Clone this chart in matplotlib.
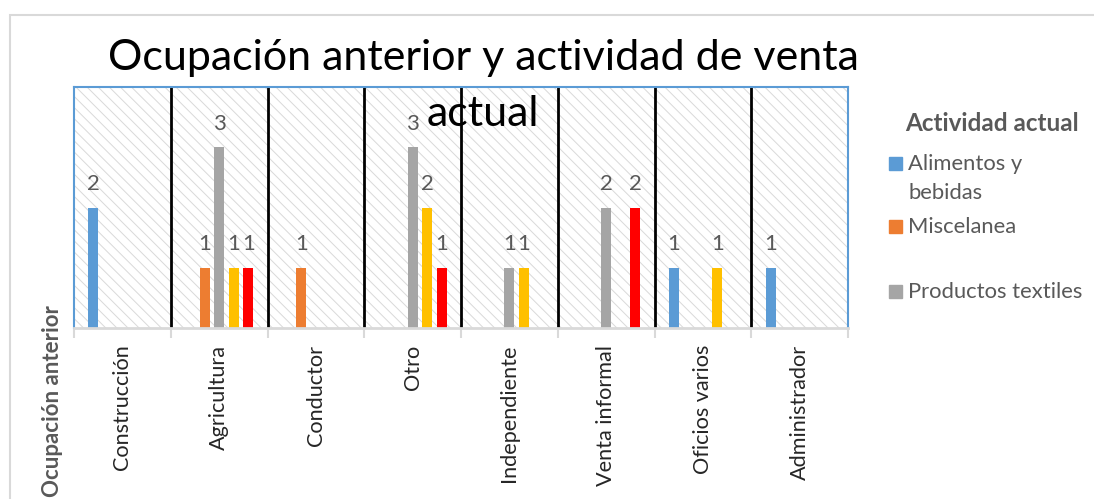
import numpy as np
import matplotlib
matplotlib.use("Agg")
import matplotlib.pyplot as plt
from matplotlib.patches import Rectangle

plt.rcParams['font.family'] = ['Lato', 'DejaVu Sans']
plt.rcParams['hatch.linewidth'] = 0.7

# datos
ocupaciones = ["Construcción", "Agricultura", "Conductor", "Otro",
               "Independiente", "Venta informal", "Oficios varios", "Administrador"]
series = ["Alimentos y\nbebidas", "Miscelanea", "Productos textiles", "Serie 4", "Serie 5"]
colores = ["#5b9bd5", "#ed7d31", "#a5a5a5", "#ffc000", "#ff0000"]
alimentos = [2, 0, 0, 0, 0, 0, 1, 1]
miscelanea = [0, 1, 1, 0, 0, 0, 0, 0]
textiles = [0, 3, 0, 3, 1, 2, 0, 0]
serie4 = [0, 1, 0, 2, 1, 0, 1, 0]
serie5 = [0, 1, 0, 1, 0, 2, 0, 0]
valores = [alimentos, miscelanea, textiles, serie4, serie5]

W, H = 1094, 499
fig = plt.figure(figsize=(W / 100, H / 100), dpi=100)
ax = fig.add_axes([74 / W, 1 - 328 / H, (848 - 74) / W, (328 - 87) / H])

x = np.arange(len(ocupaciones))
ax.set_xlim(-0.5, len(ocupaciones) - 0.5)
ax.set_ylim(0, 4)

# fondo rayado
ax.add_patch(Rectangle((0, 0), 1, 1, transform=ax.transAxes, facecolor="white",
                       edgecolor="#d9d9d9", hatch="\\\\\\", linewidth=0, zorder=0))

for k in range(len(ocupaciones) - 1):
    ax.axvline(k + 0.5, color="black", lw=2, zorder=1)

ancho = 0.105
paso = 0.15
for i, (vals, col) in enumerate(zip(valores, colores)):
    for j, v in enumerate(vals):
        if v == 0:
            continue
        xi = x[j] + (i - 2) * paso
        ax.bar(xi, v, width=ancho, color=col, zorder=2)
        ax.annotate(str(v), (xi, v), xytext=(0, 17), textcoords="offset points",
                    ha="center", va="center", fontsize=16, color="#595959")

for s in ["left", "top", "right"]:
    ax.spines[s].set_color("#5b9bd5")
    ax.spines[s].set_linewidth(1.5)
ax.spines["bottom"].set_color("#d9d9d9")
ax.spines["bottom"].set_linewidth(2)

ax.set_yticks([])
ax.set_xticks(x)
ax.set_xticklabels(ocupaciones, rotation=90, fontsize=15.6, color="#262626")
ax.tick_params(axis="x", which="major", length=0, pad=12)
ax.set_xticks(np.arange(-0.5, len(ocupaciones)), minor=True)
ax.tick_params(axis="x", which="minor", length=7, width=1.5, color="#d9d9d9")

# titulo
fig.text(483 / W, 1 - 70 / H, "Ocupación anterior y actividad de venta",
         ha="center", va="baseline", fontsize=31, color="black")
fig.text(483 / W, 1 - 126 / H, "actual",
         ha="center", va="baseline", fontsize=31, color="black")

# titulo eje
fig.text(53 / W, 1 - 497 / H, "Ocupación anterior", rotation=90, ha="center",
         va="bottom", fontsize=16, fontweight="bold", color="#595959")

# leyenda
fig.text(905 / W, 1 - 131 / H, "Actividad actual", ha="left", va="baseline",
         fontsize=17.5, fontweight="bold", color="#595959")
ys = [170, 233, 298]
for nombre, col, yb in zip(series[:3], colores[:3], ys):
    fig.patches.append(Rectangle((889 / W, 1 - yb / H), 13 / W, 13 / H,
                                 transform=fig.transFigure, color=col))
    for k, linea in enumerate(nombre.split("\n")):
        fig.text(908 / W, 1 - (yb + 29 * k) / H, linea, ha="left", va="baseline",
                 fontsize=15.8, color="#595959")

# borde
fig.patches.append(Rectangle((10 / W, -0.1), 1.2, 1 - 15 / H + 0.1, transform=fig.transFigure,
                             facecolor="none", edgecolor="#d9d9d9", lw=1.5))

fig.savefig("out.png", dpi=100)
